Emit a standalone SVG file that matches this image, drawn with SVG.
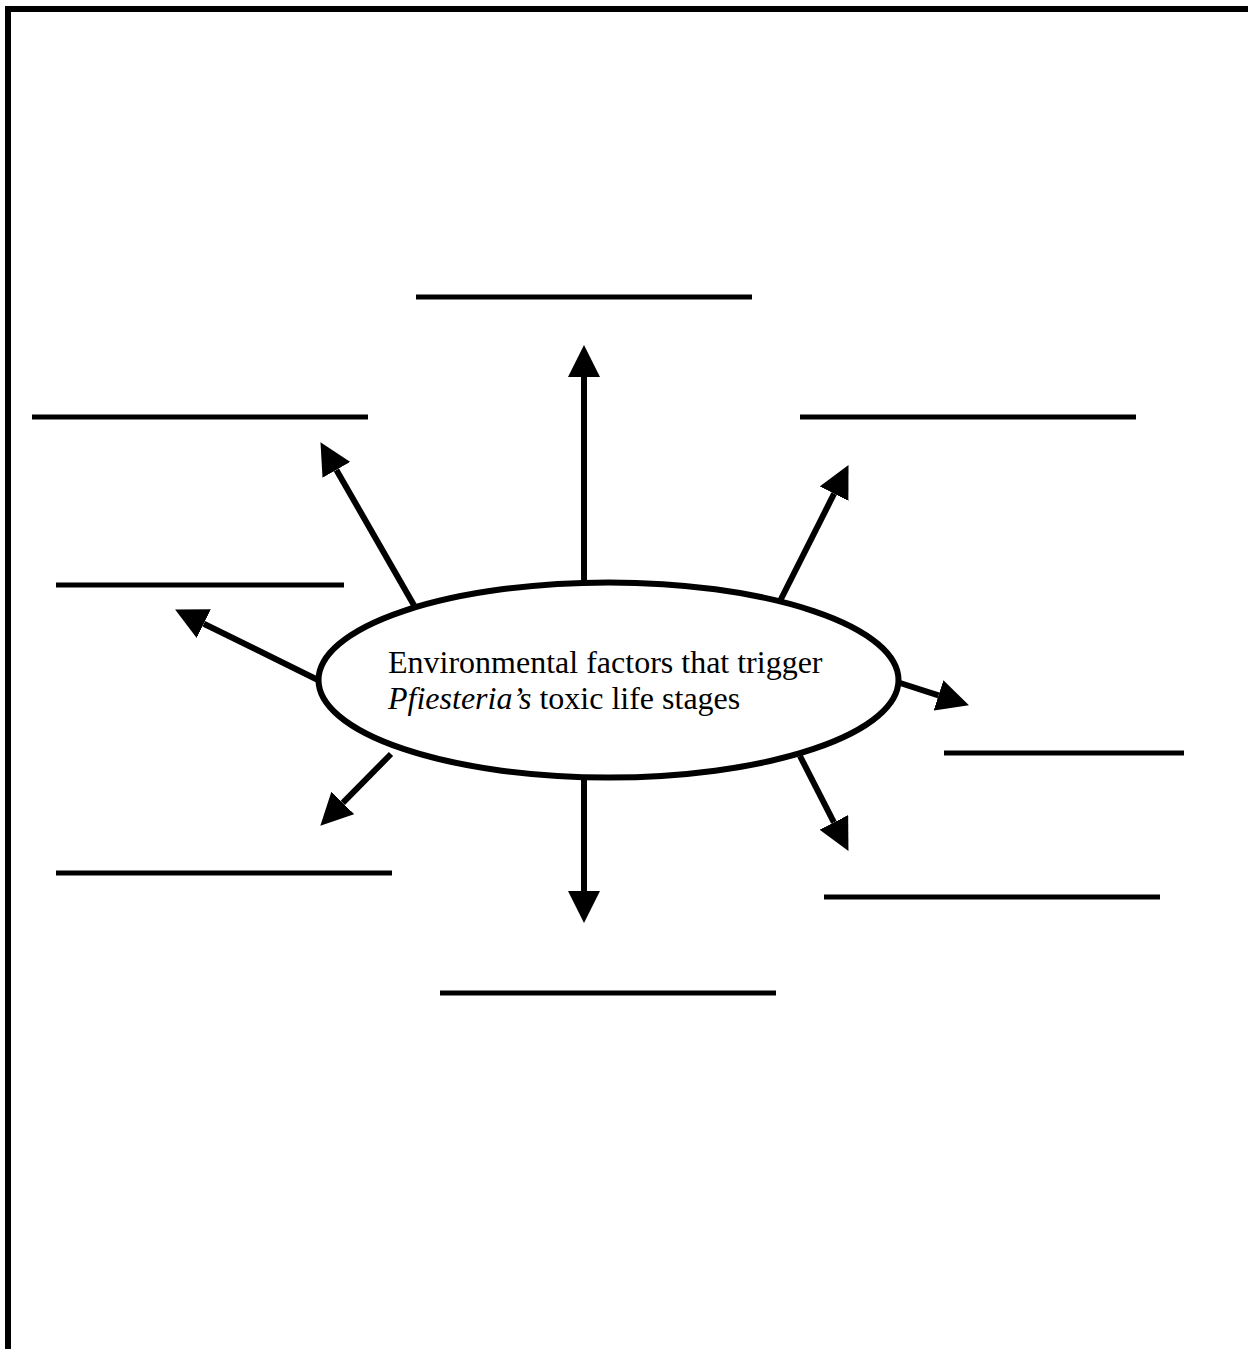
<svg xmlns="http://www.w3.org/2000/svg" width="1248" height="1349" viewBox="0 0 1248 1349">
  <style>
    .blank { stroke: #000; stroke-width: 5; fill: none; }
    .conn { stroke: #000; stroke-width: 6; fill: none; marker-end: url(#ah); }
    .label { font-family: "Liberation Serif", "Times New Roman", serif; font-size: 32px; fill: #000; }
  </style>
  <defs>
    <marker id="ah" markerUnits="userSpaceOnUse" markerWidth="32" markerHeight="32" viewBox="0 0 31 31" refX="0" refY="15.5" orient="auto">
      <path d="M0,0 L31,15.5 L0,31 Z" fill="#000"/>
    </marker>
  </defs>
  <rect width="1248" height="1349" fill="#fff"/>
  <path id="frame" d="M8,1349 V9 H1248" stroke="#000" stroke-width="6" fill="none"/>

  <g id="blanks">
    <line id="blank-top" class="blank" x1="416" y1="297" x2="752" y2="297"/>
    <line id="blank-upper-left" class="blank" x1="32" y1="417" x2="368" y2="417"/>
    <line id="blank-upper-right" class="blank" x1="800" y1="417" x2="1136" y2="417"/>
    <line id="blank-left" class="blank" x1="56" y1="585" x2="344" y2="585"/>
    <line id="blank-right" class="blank" x1="944" y1="753" x2="1184" y2="753"/>
    <line id="blank-lower-left" class="blank" x1="56" y1="873" x2="392" y2="873"/>
    <line id="blank-lower-right" class="blank" x1="824" y1="897" x2="1160" y2="897"/>
    <line id="blank-bottom" class="blank" x1="440" y1="993" x2="776" y2="993"/>
  </g>

  <g id="connectors">
    <line class="conn" x1="584" y1="582" x2="584" y2="377"/>
    <line class="conn" x1="415" y1="607" x2="336.4" y2="469.9"/>
    <line class="conn" x1="777" y1="607" x2="834.1" y2="493.7"/>
    <line class="conn" x1="320" y1="681" x2="203.8" y2="623.7"/>
    <line class="conn" x1="897" y1="682" x2="938.5" y2="695.4"/>
    <line class="conn" x1="391" y1="754" x2="342.8" y2="802.9"/>
    <line class="conn" x1="800" y1="756" x2="833.9" y2="822.4"/>
    <line class="conn" x1="584" y1="778" x2="584" y2="891"/>
  </g>

  <g id="center">
    <ellipse cx="608.5" cy="680" rx="290" ry="97.5" fill="#fff" stroke="#000" stroke-width="6"/>
    <text class="label" x="388" y="673">Environmental factors that trigger</text>
    <text class="label" x="388" y="709"><tspan font-style="italic">Pfiesteria’s</tspan> toxic life stages</text>
  </g>
</svg>
